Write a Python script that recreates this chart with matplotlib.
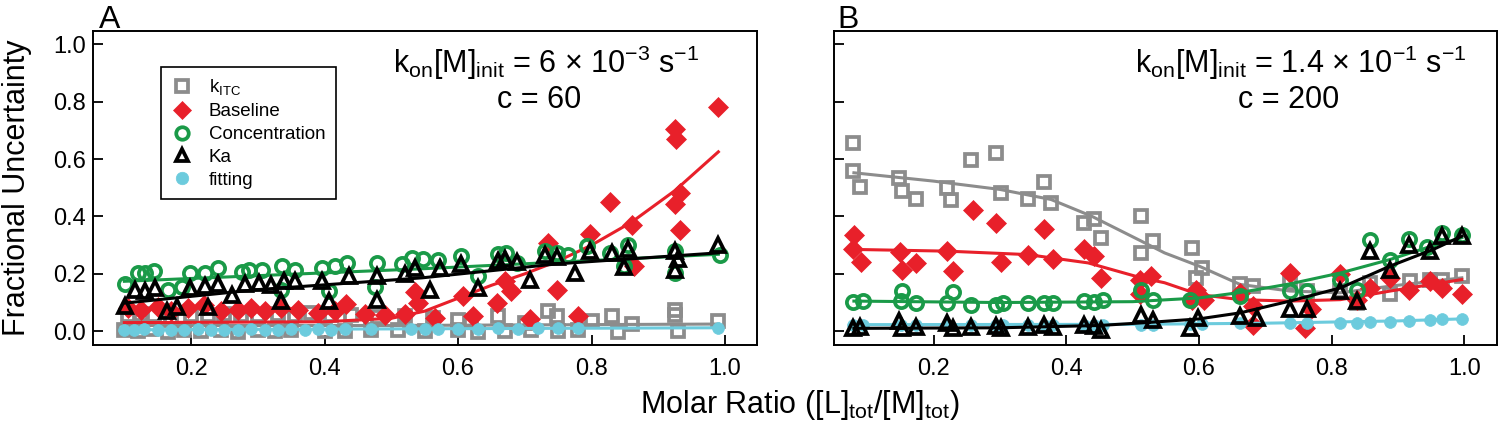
import matplotlib
matplotlib.use('Agg')
import matplotlib.pyplot as plt

plt.rcParams['font.family'] = ['Liberation Sans Narrow', 'Liberation Sans', 'DejaVu Sans']
plt.rcParams['mathtext.fontset'] = 'custom'
plt.rcParams['mathtext.rm'] = 'Liberation Sans'

# colours
GRAY = '#8c8c8c'
RED = '#e8202a'
GREEN = '#1a9a48'
BLACK = '#000000'
CYAN = '#6ccbdd'

# ---------------- panel A data ----------------
a_gray_x = [0.105, 0.125, 0.145, 0.17, 0.2, 0.225, 0.25, 0.275, 0.3, 0.33, 0.355, 0.38, 0.41, 0.44,
            0.48, 0.52, 0.563, 0.6, 0.62, 0.66, 0.7, 0.735, 0.748, 0.8, 0.83, 0.86, 0.925, 0.925, 0.99,
            0.1, 0.12, 0.14, 0.165, 0.19, 0.215, 0.245, 0.27, 0.3, 0.325, 0.35, 0.4, 0.43, 0.47,
            0.51, 0.55, 0.6, 0.63, 0.67, 0.71, 0.75, 0.78, 0.84, 0.93]
a_gray_y = [0.055, 0.06, 0.058, 0.05, 0.058, 0.055, 0.06, 0.058, 0.055, 0.06, 0.058, 0.062, 0.055, 0.058,
            0.05, 0.052, 0.047, 0.04, 0.035, 0.052, 0.03, 0.07, 0.052, 0.035, 0.052, 0.025, 0.058, 0.075, 0.035,
            0.005, 0.0, 0.008, -0.003, 0.004, 0.0, 0.006, -0.002, 0.003, 0.0, 0.005, 0.002, 0.0, 0.004,
            0.006, 0.0, 0.003, -0.004, 0.002, 0.005, 0.0, 0.004, -0.003, 0.002]
a_gray_fit_x = [0.1, 0.5, 0.99]
a_gray_fit_y = [0.02, 0.02, 0.025]

a_red_x = [0.105, 0.125, 0.15, 0.17, 0.195, 0.22, 0.245, 0.27, 0.29, 0.31, 0.335, 0.36, 0.39, 0.415,
           0.432, 0.46, 0.49, 0.52, 0.535, 0.54, 0.565, 0.608, 0.622, 0.658, 0.67, 0.68, 0.708, 0.735,
           0.748, 0.78, 0.797, 0.827, 0.86, 0.863, 0.925, 0.925, 0.927, 0.932, 0.932, 0.99]
a_red_y = [0.08, 0.075, 0.085, 0.07, 0.08, 0.09, 0.07, 0.075, 0.08, 0.07, 0.08, 0.075, 0.065, 0.07,
           0.095, 0.06, 0.055, 0.06, 0.137, 0.10, 0.045, 0.122, 0.052, 0.099, 0.174, 0.14, 0.041, 0.308,
           0.142, 0.052, 0.338, 0.45, 0.369, 0.227, 0.442, 0.706, 0.671, 0.48, 0.352, 0.78]
a_red_fit_x = [0.1, 0.4, 0.5, 0.55, 0.6, 0.65, 0.7, 0.75, 0.8, 0.86, 0.925, 0.99]
a_red_fit_y = [0.03, 0.033, 0.045, 0.07, 0.115, 0.16, 0.2, 0.245, 0.3, 0.38, 0.49, 0.625]

a_green_x = [0.101, 0.121, 0.131, 0.144, 0.166, 0.186, 0.199, 0.221, 0.241, 0.276, 0.286, 0.306, 0.336,
             0.334, 0.356, 0.396, 0.407, 0.416, 0.434, 0.479, 0.476, 0.516, 0.531, 0.548, 0.570, 0.605,
             0.630, 0.66, 0.672, 0.688, 0.73, 0.748, 0.765, 0.793, 0.828, 0.855, 0.848, 0.925, 0.925, 0.993]
a_green_y = [0.165, 0.203, 0.203, 0.209, 0.142, 0.153, 0.203, 0.203, 0.221, 0.206, 0.212, 0.212, 0.227,
             0.145, 0.215, 0.221, 0.140, 0.227, 0.238, 0.238, 0.153, 0.233, 0.256, 0.25, 0.247, 0.262,
             0.192, 0.270, 0.273, 0.238, 0.279, 0.273, 0.267, 0.297, 0.273, 0.302, 0.227, 0.279, 0.203, 0.267]
a_green_fit_x = [0.1, 0.55, 0.99]
a_green_fit_y = [0.174, 0.218, 0.268]

a_black_x = [0.101, 0.116, 0.131, 0.146, 0.164, 0.179, 0.199, 0.221, 0.226, 0.241, 0.261, 0.281, 0.301,
             0.319, 0.339, 0.334, 0.356, 0.396, 0.406, 0.436, 0.479, 0.479, 0.521, 0.536, 0.558, 0.573,
             0.605, 0.630, 0.66, 0.67, 0.688, 0.708, 0.73, 0.748, 0.775, 0.798, 0.83, 0.848, 0.855,
             0.925, 0.925, 0.93, 0.99]
a_black_y = [0.087, 0.145, 0.140, 0.149, 0.070, 0.084, 0.149, 0.157, 0.084, 0.163, 0.125, 0.163, 0.169,
             0.16, 0.174, 0.105, 0.174, 0.174, 0.105, 0.192, 0.192, 0.110, 0.198, 0.221, 0.145, 0.221,
             0.233, 0.151, 0.244, 0.25, 0.24, 0.180, 0.267, 0.26, 0.203, 0.279, 0.273, 0.225, 0.285,
             0.279, 0.215, 0.25, 0.302]
a_black_fit_x = [0.1, 0.3, 0.546, 0.75, 0.99]
a_black_fit_y = [0.098, 0.145, 0.186, 0.235, 0.273]

a_cyan_x = [0.1, 0.115, 0.13, 0.15, 0.17, 0.19, 0.21, 0.23, 0.25, 0.27, 0.29, 0.31, 0.33, 0.35, 0.37,
            0.39, 0.41, 0.43, 0.47, 0.53, 0.55, 0.57, 0.6, 0.63, 0.66, 0.69, 0.72, 0.75, 0.78, 0.99]
a_cyan_y = [0.006, 0.004, 0.007, 0.005, 0.006, 0.004, 0.007, 0.005, 0.006, 0.005, 0.007, 0.006, 0.005,
            0.007, 0.006, 0.008, 0.006, 0.007, 0.008, 0.007, 0.009, 0.008, 0.009, 0.008, 0.01, 0.009,
            0.01, 0.011, 0.01, 0.012]
a_cyan_fit_x = [0.1, 0.99]
a_cyan_fit_y = [0.005, 0.012]

# ---------------- panel B data ----------------
b_gray_x = [0.079, 0.078, 0.089, 0.148, 0.153, 0.173, 0.221, 0.227, 0.256, 0.294, 0.302, 0.342, 0.367,
            0.377, 0.427, 0.442, 0.453, 0.513, 0.513, 0.531, 0.589, 0.604, 0.596, 0.662, 0.682, 0.737,
            0.762, 0.813, 0.838, 0.858, 0.888, 0.918, 0.948, 0.966, 0.996]
b_gray_y = [0.657, 0.558, 0.503, 0.535, 0.488, 0.459, 0.500, 0.457, 0.597, 0.622, 0.483, 0.462, 0.520,
            0.448, 0.378, 0.390, 0.326, 0.401, 0.273, 0.314, 0.291, 0.221, 0.186, 0.163, 0.157, 0.169,
            0.140, 0.140, 0.099, 0.169, 0.128, 0.174, 0.180, 0.180, 0.192]
b_gray_fit_x = [0.08, 0.2, 0.3, 0.377, 0.438, 0.513, 0.548, 0.6, 0.662, 0.737, 0.813, 0.888, 0.996]
b_gray_fit_y = [0.552, 0.523, 0.494, 0.459, 0.401, 0.314, 0.273, 0.227, 0.163, 0.14, 0.134, 0.157, 0.186]

b_red_x = [0.080, 0.078, 0.090, 0.150, 0.153, 0.173, 0.221, 0.229, 0.259, 0.294, 0.302, 0.342, 0.366,
           0.380, 0.427, 0.442, 0.453, 0.511, 0.528, 0.511, 0.596, 0.589, 0.607, 0.662, 0.682, 0.682,
           0.737, 0.769, 0.759, 0.813, 0.838, 0.858, 0.888, 0.917, 0.948, 0.966, 0.996]
b_red_y = [0.334, 0.285, 0.241, 0.276, 0.215, 0.238, 0.279, 0.209, 0.422, 0.378, 0.241, 0.264, 0.355,
           0.250, 0.285, 0.262, 0.186, 0.178, 0.194, 0.128, 0.145, 0.110, 0.110, 0.134, 0.087, 0.023,
           0.203, 0.076, 0.012, 0.198, 0.110, 0.151, 0.186, 0.145, 0.174, 0.151, 0.128]
b_red_fit_x = [0.08, 0.221, 0.342, 0.433, 0.513, 0.548, 0.6, 0.662, 0.737, 0.813, 0.888, 0.996]
b_red_fit_y = [0.285, 0.279, 0.267, 0.238, 0.186, 0.169, 0.128, 0.11, 0.105, 0.110, 0.14, 0.18]

b_green_x = [0.079, 0.093, 0.153, 0.151, 0.173, 0.229, 0.221, 0.256, 0.294, 0.304, 0.342, 0.366, 0.380,
             0.427, 0.442, 0.455, 0.513, 0.531, 0.586, 0.662, 0.737, 0.762, 0.813, 0.838, 0.858, 0.888,
             0.917, 0.943, 0.966, 0.996]
b_green_y = [0.101, 0.105, 0.140, 0.105, 0.099, 0.136, 0.099, 0.093, 0.093, 0.099, 0.097, 0.097, 0.097,
             0.105, 0.101, 0.110, 0.145, 0.108, 0.110, 0.122, 0.140, 0.140, 0.180, 0.145, 0.317, 0.247,
             0.320, 0.294, 0.341, 0.334]
b_green_fit_x = [0.08, 0.3, 0.5, 0.6, 0.662, 0.737, 0.813, 0.888, 0.943, 0.996]
b_green_fit_y = [0.105, 0.1, 0.103, 0.116, 0.135, 0.165, 0.203, 0.25, 0.291, 0.326]

b_black_x = [0.079, 0.089, 0.148, 0.153, 0.173, 0.221, 0.229, 0.256, 0.294, 0.302, 0.342, 0.366, 0.380,
             0.427, 0.442, 0.453, 0.513, 0.531, 0.586, 0.599, 0.662, 0.687, 0.737, 0.762, 0.813, 0.838,
             0.858, 0.888, 0.917, 0.948, 0.966, 0.996]
b_black_y = [0.012, 0.015, 0.035, 0.012, 0.015, 0.030, 0.012, 0.015, 0.018, 0.012, 0.015, 0.020, 0.015,
             0.022, 0.018, 0.005, 0.058, 0.038, 0.012, 0.047, 0.052, 0.047, 0.076, 0.076, 0.140, 0.105,
             0.279, 0.215, 0.302, 0.279, 0.331, 0.331]
b_black_fit_x = [0.08, 0.3, 0.45, 0.52, 0.6, 0.662, 0.737, 0.813, 0.888, 0.953, 0.996]
b_black_fit_y = [0.01, 0.012, 0.02, 0.03, 0.043, 0.064, 0.105, 0.151, 0.227, 0.285, 0.331]

b_cyan_x = [0.079, 0.093, 0.151, 0.173, 0.221, 0.256, 0.294, 0.304, 0.342, 0.366, 0.380, 0.427, 0.442,
            0.455, 0.513, 0.531, 0.586, 0.604, 0.662, 0.737, 0.762, 0.813, 0.838, 0.858, 0.888, 0.917,
            0.948, 0.966, 0.996]
b_cyan_y = [0.023, 0.023, 0.023, 0.023, 0.023, 0.023, 0.023, 0.023, 0.023, 0.023, 0.023, 0.023, 0.023,
            0.023, 0.023, 0.023, 0.024, 0.025, 0.029, 0.029, 0.029, 0.029, 0.029, 0.032, 0.033, 0.036,
            0.040, 0.044, 0.044]
b_cyan_fit_x = [0.08, 0.5, 0.7, 0.9, 0.996]
b_cyan_fit_y = [0.023, 0.024, 0.028, 0.036, 0.043]

xticks = [0.2, 0.4, 0.6, 0.8, 1.0]
yticks = [0.0, 0.2, 0.4, 0.6, 0.8, 1.0]

fig = plt.figure(figsize=(15, 4.24), dpi=100)
axA = fig.add_axes([0.062, 0.1863, 0.4427, 0.7406])
axB = fig.add_axes([0.556, 0.1863, 0.442, 0.7406])

LW = 2.2
MEW = 2.7


def draw(ax, d):
    # fits first, then the points on top
    ax.plot(d['gray_fit'][0], d['gray_fit'][1], color=GRAY, lw=LW, zorder=2)
    ax.plot(d['red_fit'][0], d['red_fit'][1], color=RED, lw=LW, zorder=3)
    ax.plot(d['cyan_fit'][0], d['cyan_fit'][1], color=CYAN, lw=LW, zorder=4)
    ax.plot(d['green_fit'][0], d['green_fit'][1], color=GREEN, lw=LW, zorder=5)
    ax.plot(d['black_fit'][0], d['black_fit'][1], color=BLACK, lw=LW, zorder=6)
    h = []
    h += ax.plot(d['gray'][0], d['gray'][1], ls='none', marker='s', ms=9, mfc='none', mec=GRAY,
                 mew=MEW, zorder=2, label=r'k$_\mathregular{ITC}$')
    h += ax.plot(d['red'][0], d['red'][1], ls='none', marker='D', ms=10, mfc=RED, mec=RED,
                 mew=0.5, zorder=3, label='Baseline')
    h += ax.plot(d['green'][0], d['green'][1], ls='none', marker='o', ms=9.5, mfc='none', mec=GREEN,
                 mew=MEW, zorder=5, label='Concentration')
    h += ax.plot(d['black'][0], d['black'][1], ls='none', marker='^', ms=10, mfc='none', mec=BLACK,
                 mew=MEW, zorder=6, label='Ka')
    h += ax.plot(d['cyan'][0], d['cyan'][1], ls='none', marker='o', ms=8.5, mfc=CYAN, mec=CYAN,
                 mew=0.5, zorder=4, label='fitting')
    return h


dataA = {
    'gray': (a_gray_x, a_gray_y), 'gray_fit': (a_gray_fit_x, a_gray_fit_y),
    'red': (a_red_x, a_red_y), 'red_fit': (a_red_fit_x, a_red_fit_y),
    'green': (a_green_x, a_green_y), 'green_fit': (a_green_fit_x, a_green_fit_y),
    'black': (a_black_x, a_black_y), 'black_fit': (a_black_fit_x, a_black_fit_y),
    'cyan': (a_cyan_x, a_cyan_y), 'cyan_fit': (a_cyan_fit_x, a_cyan_fit_y),
}
dataB = {
    'gray': (b_gray_x, b_gray_y), 'gray_fit': (b_gray_fit_x, b_gray_fit_y),
    'red': (b_red_x, b_red_y), 'red_fit': (b_red_fit_x, b_red_fit_y),
    'green': (b_green_x, b_green_y), 'green_fit': (b_green_fit_x, b_green_fit_y),
    'black': (b_black_x, b_black_y), 'black_fit': (b_black_fit_x, b_black_fit_y),
    'cyan': (b_cyan_x, b_cyan_y), 'cyan_fit': (b_cyan_fit_x, b_cyan_fit_y),
}

handles = draw(axA, dataA)
draw(axB, dataB)

for ax, xl in ((axA, (0.053, 1.048)), (axB, (0.05, 1.049))):
    ax.set_xlim(*xl)
    ax.set_ylim(-0.048, 1.046)
    ax.set_xticks(xticks)
    ax.set_yticks(yticks)
    ax.tick_params(direction='in', length=7, width=1.3, labelsize=17)
    ax.tick_params(axis='x', pad=9)
    ax.tick_params(axis='y', pad=5)
    for s in ax.spines.values():
        s.set_linewidth(1.4)

axA.set_xticklabels(['0.2', '0.4', '0.6', '0.8', '1.0'])
axA.set_yticklabels(['0.0', '0.2', '0.4', '0.6', '0.8', '1.0'])
axB.set_xticklabels(['0.2', '0.4', '0.6', '0.8', '1.0'])
axB.set_yticklabels([])

leg = axA.legend(handles=handles, loc='upper left', bbox_to_anchor=(0.088, 0.915), fontsize=13.5,
                 frameon=True, fancybox=False, edgecolor='black', framealpha=1, numpoints=1,
                 handlelength=1.2, handletextpad=0.8, labelspacing=0.3, borderpad=0.55)
leg.get_frame().set_linewidth(1.2)
for lh in leg.legend_handles:
    lh.set_markersize(9)

axA.text(0.682, 0.90, r'k$_\mathregular{on}$[M]$_\mathregular{init}$ = 6 $\times$ 10$^\mathregular{-3}$ s$^\mathregular{-1}$',
         transform=axA.transAxes, ha='center', va='center', fontsize=22)
axA.text(0.672, 0.78, 'c = 60', transform=axA.transAxes, ha='center', va='center', fontsize=22)
axB.text(0.704, 0.90, r'k$_\mathregular{on}$[M]$_\mathregular{init}$ = 1.4 $\times$ 10$^\mathregular{-1}$ s$^\mathregular{-1}$',
         transform=axB.transAxes, ha='center', va='center', fontsize=22)
axB.text(0.685, 0.78, 'c = 200', transform=axB.transAxes, ha='center', va='center', fontsize=22)

fig.text(99 / 1500, 1 - 28 / 424, 'A', fontsize=23, ha='left', va='baseline')
fig.text(837 / 1500, 1 - 28 / 424, 'B', fontsize=23, ha='left', va='baseline')

fig.text(800 / 1500, 1 - 405 / 424, r'Molar Ratio ([L]$_\mathregular{tot}$/[M]$_\mathregular{tot}$)',
         ha='center', va='center', fontsize=22)
fig.text(17 / 1500, 0.186 + 0.7406 / 2, 'Fractional Uncertainty', rotation=90, ha='center', va='center',
         fontsize=22)

fig.savefig('out.png', dpi=100)
